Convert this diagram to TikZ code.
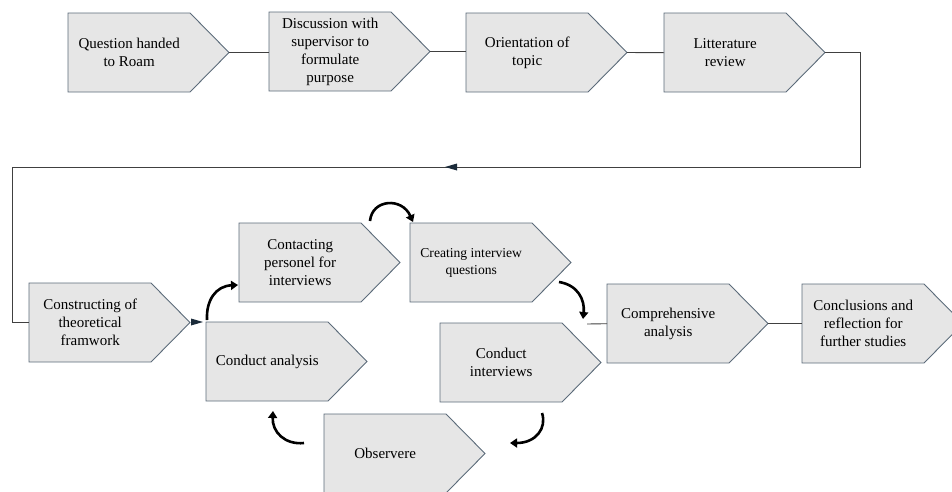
\documentclass[tikz,border=0pt]{standalone}
\usepackage{fontspec}
\setmainfont{Liberation Serif}
\usetikzlibrary{arrows.meta}

\definecolor{boxfill}{HTML}{E6E6E6}
\definecolor{boxline}{HTML}{5C6B7A}
\definecolor{linkline}{HTML}{404040}
\definecolor{tipnavy}{HTML}{1B2B3A}

\tikzset{
  chevron/.style={fill=boxfill, draw=boxline, line width=0.9pt, line join=miter},
  boxtext/.style={inner sep=0pt, align=center, font=\fontsize{15}{18}\selectfont,
    minimum width=122, minimum height=79, anchor=north west},
  link/.style={draw=linkline, line width=0.9pt},
  navytip/.style={draw=none, fill=tipnavy},
  cycarrow/.style={draw=black, line width=2.6pt, line cap=butt,
    -{Triangle[length=7pt,width=9pt]}},
}

% chevron step: [extra text options]{name}{left x}{top y}{text}
\newcommand\chevbox[5][]{%
  \draw[chevron] (#3,#4) -- ++(122,0) -- ++(39,39.5) -- ++(-39,39.5) -- ++(-122,0) -- cycle;
  \node[boxtext,#1] (#2) at (#3,#4) {#5};
  \coordinate (#2tip) at ({#3+161},{#4+39.5});
}

\begin{document}
\begin{tikzpicture}[x=1pt,y=-1pt]
\useasboundingbox (0,0) rectangle (952,491);
\clip (0,0) rectangle (952,491);

% top row
\chevbox{q1}{68}{13}{Question handed\\to Roam}
\chevbox{q2}{269}{12}{Discussion with\\supervisor to\\formulate\\purpose}
\chevbox{q3}{466}{13}{Orientation of\\topic}
\chevbox{q4}{664}{13}{Litterature\\review}

% lower part
\chevbox{cons}{29}{283}{Constructing of\\theoretical\\framwork}
\chevbox{cont}{239}{223}{Contacting\\personel for\\interviews}
\chevbox[font=\fontsize{13.6}{17}\selectfont]{crea}{410}{223}{Creating interview\\questions}
\chevbox{ana}{206}{322}{Conduct analysis}
\chevbox{intv}{440}{323}{Conduct\\interviews}
\chevbox{comp}{607}{284}{Comprehensive\\analysis}
\chevbox{concl}{802}{284}{Conclusions and\\reflection for\\further studies}
\chevbox{obs}{324}{414}{Observere}

% straight connectors
\draw[link] (q1tip) -- (q1tip -| q2.west);
\draw[link] (q2tip) -- (q2tip -| q3.west);
\draw[link] (q3tip) -- (q3.east -| q4.west);
\coordinate (turnR) at (860,167);
\coordinate (turnL) at (12,167);
\coordinate (midarrow) at (445,167);
\draw[link] (q4tip) -| (turnR) -- (turnL) |- (cons.west);
\fill[navytip] (midarrow) -- ++(12,-3.5) -- ++(0,7) -- cycle;
\fill[navytip] (203,322) -- ++(-12,-3.5) -- ++(0,7) -- cycle;

\coordinate (compin) at (587,324);
\draw[link] (compin) -- (comp.west);
\draw[link] (comptip) -- (comptip -| concl.west);

% cycle of curved arrows
\coordinate (c1a) at (207,320);  \coordinate (c1b) at (238,285);
\coordinate (c2a) at (370,221);  \coordinate (c2b) at (413,222);
\coordinate (c3a) at (559,282);  \coordinate (c3b) at (583,319);
\coordinate (c4a) at (542,413);  \coordinate (c4b) at (510,443);
\coordinate (c5a) at (304,443);  \coordinate (c5b) at (273,411);
\draw[cycarrow] (c1a) .. controls (206,300) and (216,286) .. (c1b);
\draw[cycarrow] (c2a) .. controls (372,199) and (402,197) .. (c2b);
\draw[cycarrow] (c3a) .. controls (578,285) and (585,300) .. (c3b);
\draw[cycarrow] (c4a) .. controls (547,428) and (536,443) .. (c4b);
\draw[cycarrow] (c5a) .. controls (285,445) and (272,432) .. (c5b);
\end{tikzpicture}
\end{document}
